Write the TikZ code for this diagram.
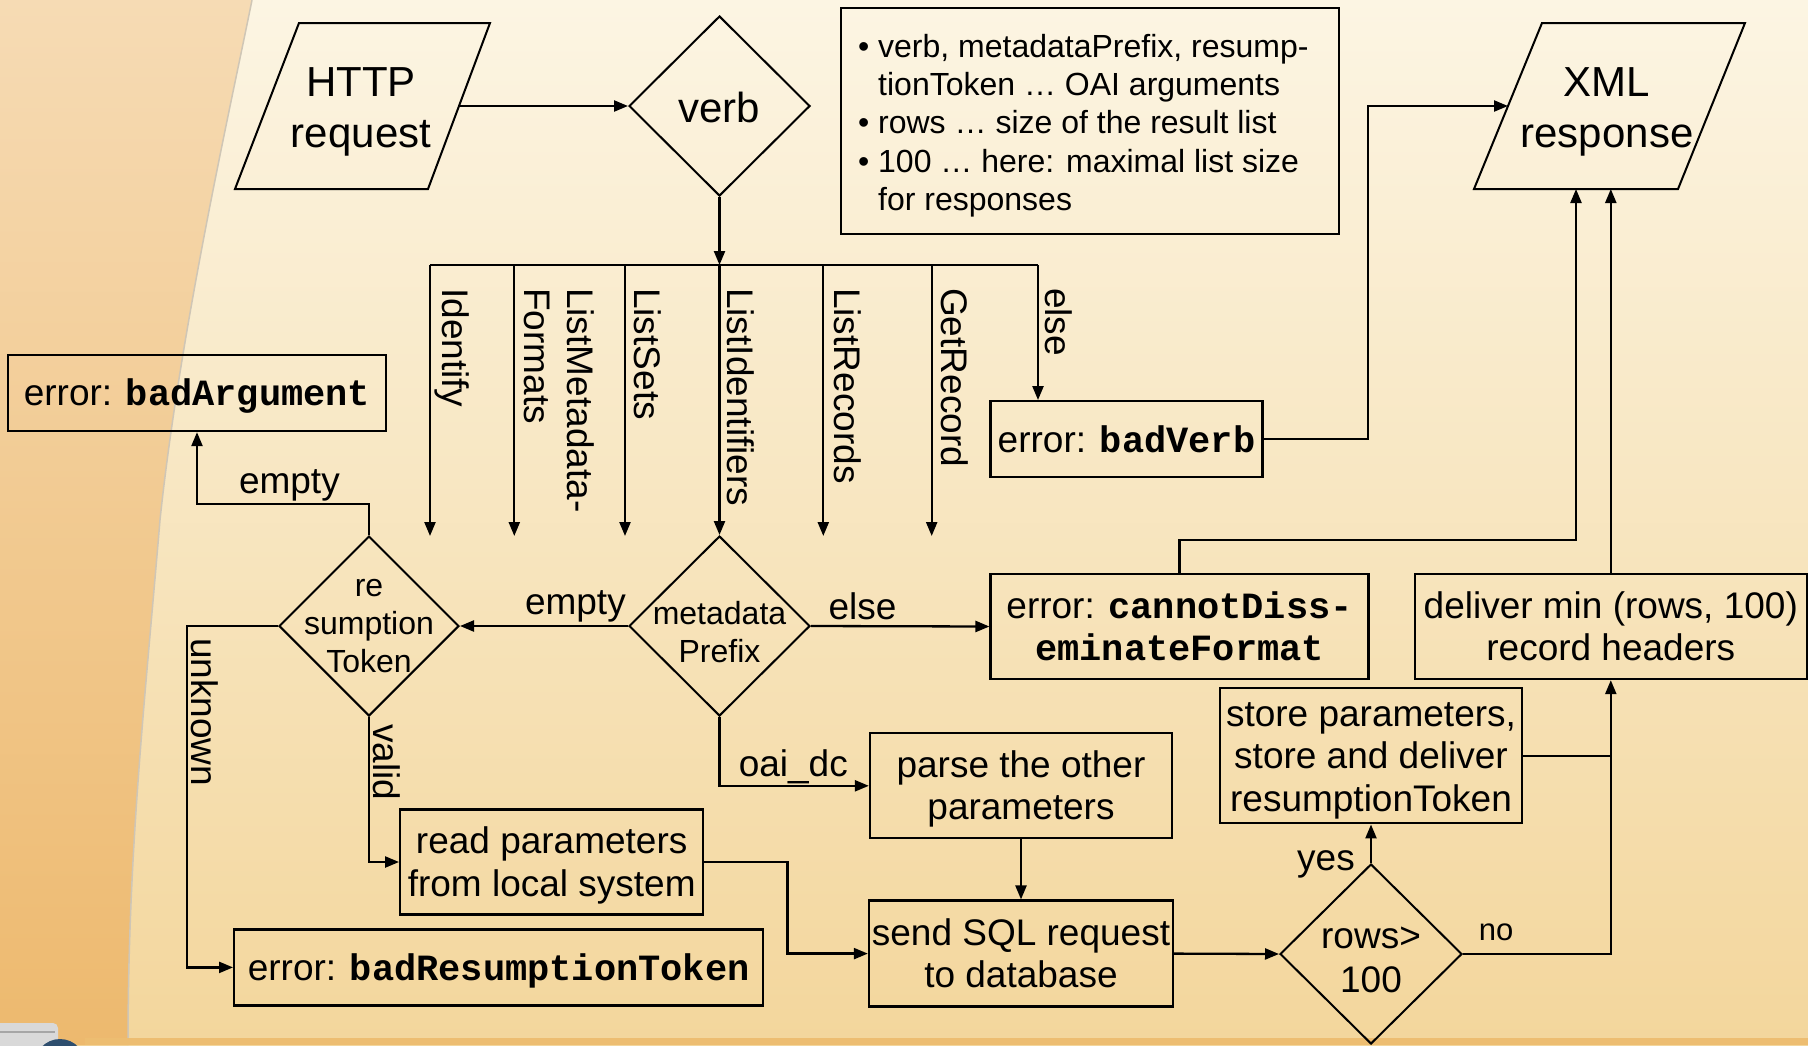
\documentclass[tikz,border=0pt]{standalone}
\usepackage{fontspec}
\setmainfont{Liberation Sans}
\setmonofont{Liberation Mono}
\usetikzlibrary{arrows.meta,shapes.geometric,calc}

\definecolor{bgtop}{HTML}{FCF5E3}
\definecolor{bgmid}{HTML}{FAEFD6}
\definecolor{bgbot}{HTML}{F3D69C}
\definecolor{lefttop}{HTML}{F6DBB4}
\definecolor{leftbot}{HTML}{EDB96E}
\definecolor{stripc}{HTML}{EDBD71}
\definecolor{edgec}{HTML}{CFC6B6}
\definecolor{iconblue}{HTML}{2E4E6E}

\newcommand\fsMain{\fontsize{37}{42.5}\selectfont}
\newcommand\fsBig{\fontsize{42}{51}\selectfont}
\newcommand\fsSmall{\fontsize{32}{38.3}\selectfont}
\newcommand\fsNo{\fontsize{31}{36}\selectfont}
\newcommand\mono[1]{{\ttfamily\bfseries #1}}
\newcommand\sT{\rule[-0.212em]{0pt}{1.117em}}

\begin{document}
\begin{tikzpicture}[x=1pt,y=-1pt,
  line/.style={line width=2.3pt, draw=black},
  arr/.style={line, -{Triangle[length=14pt,width=11pt]}},
  box/.style={draw, line width=2.3pt, rectangle, inner sep=0pt, align=center, font=\fsMain},
  dia/.style={draw, line width=2pt, diamond, aspect=1, inner sep=0pt},
  lbl/.style={font=\fsMain, inner sep=0pt},
  vlbl/.style={font=\fsMain, inner sep=0pt, rotate=-90, anchor=west, align=left},
  dtext/.style={font=\fsSmall, inner sep=0pt, align=center},
]
% background
\useasboundingbox (0,0) rectangle (1808,1045);
\shade[top color=bgtop, middle color=bgmid, bottom color=bgbot] (0,0) rectangle (1808,1045);
\shade[top color=lefttop, bottom color=leftbot] (0,0) -- (252,0) .. controls (232,100) and (180,330) .. (160,520) .. controls (145,700) and (128,850) .. (128,1045) -- (0,1045) -- cycle;
\draw[line width=1.5pt, edgec] (252,0) .. controls (232,100) and (180,330) .. (160,520) .. controls (145,700) and (128,850) .. (128,1045);
\fill[stripc] (85,1038) rectangle (1808,1045);
\fill[gray!30, rounded corners=5pt] (-20,1023) rectangle (58,1070);
\draw[line width=2.5pt, gray!70] (0,1032) -- (55,1032);
\fill[iconblue] (60,1066) ellipse [x radius=26pt, y radius=27pt];
\fill[gray!55] (60,1070) ellipse [x radius=16pt, y radius=22pt];

% parallelograms
\draw[line width=2pt] (299,23) -- (490,23) -- (428,189) -- (235,189) -- cycle;
\node[font=\fsBig, align=center, inner sep=0pt] (http) at (361,107) {\sT HTTP\\request\sT};
\coordinate (httpE) at (459,106);

\draw[line width=2pt] (1542,23) -- (1745,23) -- (1678,189) -- (1474,189) -- cycle;
\node[font=\fsBig, align=center, inner sep=0pt] (xml) at (1607,107) {\sT XML\\response\sT};
\coordinate (xmlW) at (1508,106);
\coordinate (xmlB1) at (1576,189);
\coordinate (xmlB2) at (1610.8,189);

% verb diamond
\node[dia, minimum width=181pt, minimum height=180pt] (verb) at (719.5,106) {};
\node[font=\fsBig, inner sep=0pt] (verbT) at (719,107) {verb};

% notes
\node[draw, line width=2pt, minimum width=498pt, minimum height=226pt, inner sep=0pt] (notes) at (1089.7,121) {};
\node[font=\fsSmall, align=left, anchor=north west, inner sep=0pt] (notesT) at (858,34) {%
\makebox[20pt][l]{\textbullet}verb, metadataPrefix, resump-\\
\makebox[20pt][l]{}tionToken … OAI arguments\\
\makebox[20pt][l]{\textbullet}rows … size of the result list\\
\makebox[20pt][l]{\textbullet}100 … here: maximal list size\\
\makebox[20pt][l]{}for responses};

% boxes
\node[box, minimum width=378pt, minimum height=76pt] (badarg) at (197,393) {\sT error: \mono{badArgument}};
\node[box, minimum width=272pt, minimum height=76pt] (badverb) at (1126.5,439.2) {\sT error: \mono{badVerb}};
\node[box, minimum width=378pt, minimum height=105pt] (cannot) at (1179.6,626.5) {\sT error: \mono{cannotDiss-}\\\mono{eminateFormat}\sT};
\node[box, minimum width=392pt, minimum height=105pt] (deliver) at (1610.8,626.5) {\sT deliver min (rows, 100)\\record headers\sT};
\node[box, minimum width=302pt, minimum height=135pt] (store) at (1371,755.8) {\sT store parameters,\\store and deliver\\resumptionToken\sT};
\node[box, minimum width=303pt, minimum height=105pt] (read) at (551.7,862) {\sT read parameters\\from local system\sT};
\node[box, minimum width=302pt, minimum height=105pt] (parse) at (1021,785.8) {\sT parse the other\\parameters\sT};
\node[box, minimum width=304pt, minimum height=106pt] (sql) at (1021,953.6) {\sT send SQL request\\to database\sT};
\node[box, minimum width=529pt, minimum height=76pt] (badrt) at (498.7,967.4) {\sT error: \mono{badResumptionToken}};

% diamonds
\node[dia, minimum width=180pt, minimum height=180pt] (rt) at (369,626) {};
\node[dtext] (rtT) at (369,626) {re\\sumption\\Token};
\node[dia, minimum width=181pt, minimum height=180pt] (mp) at (719.5,626) {};
\node[dtext] (mpT) at (719.5,632) {metadata\\Prefix};
\node[dia, minimum width=182pt, minimum height=180pt] (rows) at (1371,954) {};
\node[dtext, font=\fontsize{37}{44}\selectfont] (rowsT) at (1371,960) {rows>\\100};

% bus
\coordinate (busV) at (719.5,265);
\coordinate (busL) at (430,265);
\coordinate (busR) at (1038,265);
\coordinate (xLMF) at (514.3,536);
\coordinate (xLS) at (625,536);
\coordinate (xLR) at (823.3,536);
\coordinate (xGR) at (931.7,536);
\coordinate (xI) at (430,536);
\draw[arr] (verb.south) -- (busV);
\draw[line] (busL) -- (busR);
\draw[arr] (busL) -- (xI);
\draw[arr] (xLMF |- busL) -- (xLMF);
\draw[arr] (xLS |- busL) -- (xLS);
\draw[arr] (busV) -- (mp.north);
\draw[arr] (xLR |- busL) -- (xLR);
\draw[arr] (xGR |- busL) -- (xGR);
\draw[arr] (busR) -- (busR |- badverb.north);

% connectors
\draw[arr] (httpE) -- (verb.west);
\coordinate (bvK) at (1368,106);
\draw[arr] (badverb.east) -| (bvK) -- (xmlW);
\coordinate (cdK) at (1576,540);
\draw[arr] (cannot.north) |- (cdK) -- (xmlB1);
\draw[arr] (deliver.north) -- (xmlB2);
\draw[line] (store.east) -- (store.east -| deliver.south);
\draw[arr] (rows.east) -| (deliver.south);
\draw[arr] (rows.north) -- (store.south);
\draw[arr] (sql.east) -- (rows.west);
\draw[arr] (parse.south) -- (sql.north);
\draw[arr] (mp.south) |- (parse.west);
\draw[arr] (mp.west) -- (rt.east);
\draw[arr] (mp.east) -- (cannot.west);
\coordinate (raK) at (369,504);
\draw[arr] (rt.north) -- (raK) -| (badarg.south);
\draw[arr] (rt.south) |- (read.west);
\coordinate (rsK) at (787.5,862);
\draw[arr] (read.east) -- (rsK) |- (sql.west);
\coordinate (rbK) at (186.8,626);
\draw[arr] (rt.west) -- (rbK) |- (badrt.west);

% labels
\node[lbl] (lEmpty1) at (289.4,485) {empty};
\node[lbl] (lEmpty2) at (575.4,606) {empty};
\node[lbl] (lElse2) at (862.5,606) {else};
\node[lbl] (lOai) at (793.3,767) {oai\_dc};
\node[lbl] (lYes) at (1326,864) {yes};
\node[lbl, font=\fsNo] (lNo) at (1496,932) {no};

\node[vlbl] (vI) at (452,288) {Identify};
\node[vlbl] (vLMF) at (559,288) {ListMetadata-\\Formats};
\node[vlbl] (vLS) at (648,288) {ListSets};
\node[vlbl] (vLI) at (741,288) {ListIdentifiers};
\node[vlbl] (vLR) at (847.5,288) {ListRecords};
\node[vlbl] (vGR) at (955,288) {GetRecord};
\node[vlbl] (vElse) at (1058.5,288) {else};
\node[vlbl] (vValid) at (387,724) {valid};
\node[vlbl] (vUnk) at (205,638) {unknown};
\end{tikzpicture}
\end{document}
